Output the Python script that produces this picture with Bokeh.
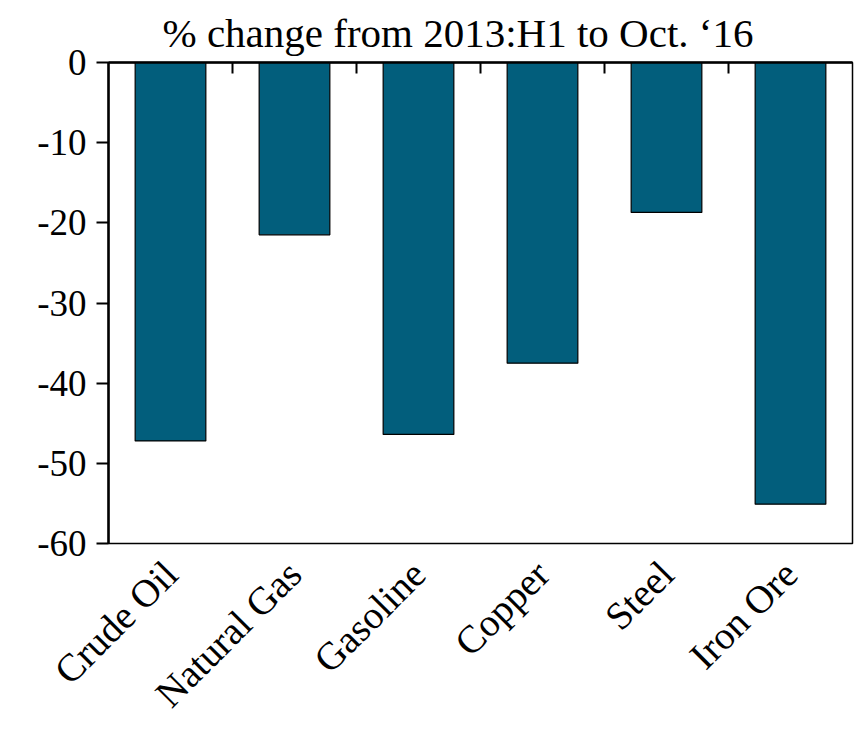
import math
from bokeh.plotting import figure
from bokeh.models import Range1d, LinearAxis, FixedTicker, Title, ColumnDataSource
from bokeh.embed import file_html
from bokeh.resources import INLINE

categories = ["Crude Oil", "Natural Gas", "Gasoline", "Copper", "Steel", "Iron Ore"]
pct_change = [-47.2, -21.5, -46.4, -37.5, -18.7, -55.1]
y_ticks = [0, -10, -20, -30, -40, -50, -60]
y_tick_labels = ["0", "-10", "-20", "-30", "-40", "-50", "-60"]
title_text = "% change from 2013:H1 to Oct. \u201816"

FONT = "Liberation Serif"
BAR = "#025E7C"

n = len(categories)
centers = [i + 0.5 for i in range(n)]
boundaries = [i for i in range(1, n)]

src = ColumnDataSource(dict(x=centers, top=[0] * n, bottom=pct_change, cat=categories))

p = figure(width=856, height=737, output_backend="svg", toolbar_location=None,
           x_range=Range1d(0, n), y_range=Range1d(-60, 0),
           x_axis_location=None, y_axis_location=None,
           min_border_left=108, min_border_right=4, min_border_top=62, min_border_bottom=194)
p.xgrid.visible = False
p.ygrid.visible = False
p.outline_line_color = "black"
p.outline_line_width = 1.5
p.background_fill_color = "white"
p.border_fill_color = "white"

p.vbar(x="x", top="top", bottom="bottom", width=0.57, source=src,
       fill_color=BAR, line_color="black", line_width=1.2)

# left y axis
yax = LinearAxis(ticker=FixedTicker(ticks=y_ticks),
                 major_label_overrides={t: l for t, l in zip(y_ticks, y_tick_labels)})
yax.major_tick_in = 0
yax.major_tick_out = 12
yax.major_tick_line_width = 2
yax.minor_tick_line_color = None
yax.axis_line_width = 2.5
yax.axis_line_color = "black"
yax.major_label_text_font = FONT
yax.major_label_text_font_size = "37px"
yax.major_label_text_color = "black"
yax.major_label_standoff = 10
p.add_layout(yax, "left")

# top axis (value 0 line) with ticks at category boundaries
tax = LinearAxis(ticker=FixedTicker(ticks=boundaries))
tax.major_tick_in = 11
tax.major_tick_out = 0
tax.major_tick_line_width = 2
tax.minor_tick_line_color = None
tax.axis_line_width = 2.5
tax.axis_line_color = "black"
tax.major_label_text_font_size = "0px"
tax.major_label_text_color = None
tax.major_label_standoff = 0
p.add_layout(tax, "above")

# bottom category labels
bax = LinearAxis(ticker=FixedTicker(ticks=centers),
                 major_label_overrides={c: l for c, l in zip(centers, categories)})
bax.major_tick_line_color = None
bax.minor_tick_line_color = None
bax.axis_line_color = None
bax.major_label_orientation = math.pi / 4
bax.major_label_text_font = FONT
bax.major_label_text_font_size = "39px"
bax.major_label_text_color = "black"
bax.major_label_standoff = 18
p.add_layout(bax, "below")

p.add_layout(Title(text=title_text, align="left", offset=54, text_font=FONT,
                   text_font_size="41px", text_font_style="normal",
                   text_color="black", standoff=14), "above")

open("out.html", "w").write(file_html(p, INLINE))
